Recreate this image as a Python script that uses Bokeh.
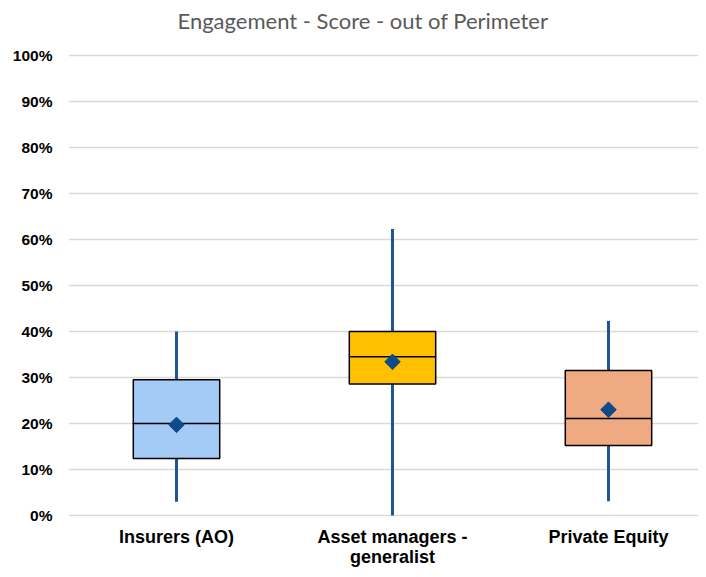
from bokeh.plotting import figure
from bokeh.models import ColumnDataSource, FixedTicker, Range1d
from bokeh.embed import file_html
from bokeh.resources import INLINE
import numpy as np

categories = ["Insurers (AO)", "Asset managers -\ngeneralist", "Private Equity"]
whisker_low = [0.030, 0.000, 0.031]
q1 = [0.124, 0.286, 0.152]
median = [0.200, 0.345, 0.211]
q3 = [0.295, 0.400, 0.315]
whisker_high = [0.400, 0.623, 0.423]
mean = [0.197, 0.334, 0.230]
box_colors = ["#A4CAF6", "#FFC000", "#F0AA82"]
y_ticks = [0.0, 0.1, 0.2, 0.3, 0.4, 0.5, 0.6, 0.7, 0.8, 0.9, 1.0]
y_tick_labels = ["0%", "10%", "20%", "30%", "40%", "50%", "60%", "70%", "80%", "90%", "100%"]

xpos = list(range(1, len(categories) + 1))

src = ColumnDataSource(dict(
    x=xpos, low=whisker_low, q1=q1, med=median, q3=q3, high=whisker_high,
    mean=mean, color=box_colors,
))

p = figure(width=698, height=569, output_backend="svg", toolbar_location=None,
           x_range=Range1d(0.5, 3.4167), y_range=Range1d(-0.0022, 1.0412),
           min_border_left=68, min_border_right=0, min_border_top=36, min_border_bottom=52)

p.title.text = "Engagement - Score - out of Perimeter"
p.title.text_font = "Lato"
p.title.text_font_size = "22px"
p.title.text_font_style = "normal"
p.title.text_color = "#595959"
p.title.align = "left"
p.title.offset = 109
p.title.standoff = 5

p.outline_line_color = None
p.background_fill_color = "white"
p.border_fill_color = "white"

# axes
p.xaxis.ticker = FixedTicker(ticks=xpos)
p.xaxis.major_label_overrides = {x: c for x, c in zip(xpos, categories)}
p.yaxis.ticker = FixedTicker(ticks=y_ticks)
p.yaxis.major_label_overrides = {t: l for t, l in zip(y_ticks, y_tick_labels)}
for ax in (p.xaxis, p.yaxis):
    ax.axis_line_color = None
    ax.major_tick_line_color = None
    ax.minor_tick_line_color = None
    ax.major_tick_out = 0
    ax.major_tick_in = 0
    ax.major_label_text_font = "Liberation Sans"
    ax.major_label_text_font_style = "bold"
    ax.major_label_text_color = "black"
p.yaxis.major_label_text_font_size = "15.5px"
p.yaxis.major_label_standoff = 16
p.xaxis.major_label_text_font_size = "18px"
p.xaxis.major_label_text_line_height = 1.0
p.xaxis.major_label_standoff = 10

p.xgrid.grid_line_color = None
p.ygrid.grid_line_color = "#D9D9D9"
p.ygrid.grid_line_width = 1.5

# whiskers
p.segment(x0="x", y0="low", x1="x", y1="high", source=src,
          line_color="#1F5593", line_width=3)
# boxes
p.vbar(x="x", width=0.4, bottom="q1", top="q3", source=src,
       fill_color="color", line_color="black", line_width=1.5)
# medians
p.rect(x="x", y="med", width=0.4, height=0.0001, source=src,
       fill_alpha=0, line_color="black", line_width=1.5)
# means
p.scatter(x="x", y="mean", source=src, marker="square", size=11, angle=np.pi / 4,
          fill_color="#0F4A8A", line_color="#0F4A8A")

open("out.html", "w").write(file_html(p, INLINE))
